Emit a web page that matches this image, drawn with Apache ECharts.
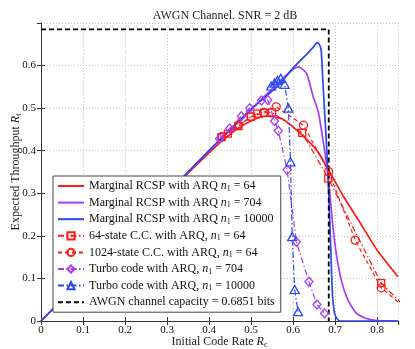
<!DOCTYPE html>
<html>
<head>
<meta charset="utf-8">
<script src="https://cdn.jsdelivr.net/npm/echarts@6/dist/echarts.min.js"></script>
<style>
  html, body { margin: 0; padding: 0; background: #fff; }
  #chart { width: 415px; height: 349px; }
</style>
</head>
<body>
<div id="chart"></div>
<script>
// data (x = initial code rate, y = expected throughput)
var rcsp64Rate = [0, 0.1, 0.2, 0.3, 0.35, 0.4, 0.43, 0.465, 0.5, 0.537, 0.576, 0.616, 0.656, 0.684, 0.72, 0.759, 0.8, 0.85];
var rcsp64Thr = [0, 0.1, 0.2, 0.299, 0.347, 0.395, 0.422, 0.45, 0.47, 0.481, 0.474, 0.442, 0.402, 0.356, 0.293, 0.232, 0.167, 0.104];

var rcsp704Rate = [0, 0.1, 0.2, 0.3, 0.4, 0.5, 0.55, 0.58, 0.6, 0.613, 0.632, 0.648, 0.66, 0.671, 0.683, 0.695, 0.703, 0.715, 0.731, 0.751, 0.775, 0.8, 0.85];
var rcsp704Thr = [0, 0.1, 0.2, 0.3, 0.4, 0.497, 0.545, 0.574, 0.591, 0.597, 0.582, 0.527, 0.492, 0.428, 0.348, 0.222, 0.159, 0.096, 0.049, 0.018, 0.006, 0.001, 0];

var rcsp10000Rate = [0, 0.1, 0.2, 0.3, 0.4, 0.5, 0.568, 0.6, 0.63, 0.65, 0.657, 0.662, 0.667, 0.671, 0.675, 0.68, 0.685, 0.69, 0.694, 0.699, 0.705, 0.712, 0.85];
var rcsp10000Thr = [0, 0.1, 0.2, 0.3, 0.4, 0.497, 0.556, 0.594, 0.624, 0.645, 0.654, 0.651, 0.637, 0.566, 0.496, 0.41, 0.3, 0.17, 0.06, 0.018, 0.005, 0, 0];

var cc64Rate = [0.43, 0.445, 0.47, 0.5, 0.515, 0.532, 0.55, 0.622, 0.684, 0.81, 0.88];
var cc64Thr = [0.432, 0.44, 0.458, 0.48, 0.487, 0.489, 0.49, 0.442, 0.335, 0.089, 0.02];

var cc1024Rate = [0.43, 0.47, 0.5, 0.53, 0.56, 0.625, 0.685, 0.748, 0.81, 0.88];
var cc1024Thr = [0.433, 0.46, 0.48, 0.49, 0.503, 0.46, 0.351, 0.19, 0.078, 0.02];

var turbo704Rate = [0.425, 0.449, 0.477, 0.497, 0.525, 0.54, 0.556, 0.565, 0.586, 0.608, 0.638, 0.657, 0.675];
var turbo704Thr = [0.428, 0.452, 0.481, 0.5, 0.518, 0.519, 0.47, 0.447, 0.355, 0.186, 0.092, 0.039, 0.018];

var turbo10000Rate = [0.548, 0.556, 0.563, 0.571, 0.58, 0.589, 0.594, 0.598, 0.604, 0.612];
var turbo10000Thr = [0.552, 0.559, 0.565, 0.57, 0.556, 0.5, 0.374, 0.198, 0.074, 0.022];

var capacity = 0.6851;
var awgnRate = [0, capacity, capacity];
var awgnThr = [capacity, capacity, 0];

var legendText = {
  rcsp64: 'Marginal RCSP with ARQ {i|n}{s|1} = 64',
  rcsp704: 'Marginal RCSP with ARQ {i|n}{s|1} = 704',
  rcsp10000: 'Marginal RCSP with ARQ {i|n}{s|1} = 10000',
  cc64: '64-state C.C. with ARQ, {i|n}{s|1} = 64',
  cc1024: '1024-state C.C. with ARQ, {i|n}{s|1} = 64',
  turbo704: 'Turbo code with ARQ, {i|n}{s|1} = 704',
  turbo10000: 'Turbo code with ARQ, {i|n}{s|1} = 10000',
  awgn: 'AWGN channel capacity = 0.6851 bits'
};

var RED = '#ff1a1a';
var PURPLE = '#a63cf2';
var BLUE = '#2b48f2';
var CLEAR = 'rgba(255,255,255,0)';
var FONT = '"Liberation Serif", "DejaVu Serif", serif';
var DASHDOT = [6, 2.5, 1.5, 2.5];

function zip(xs, ys) {
  return xs.map(function (x, i) { return [x, ys[i]]; });
}

// plain curve: itemStyle kept transparent so the legend only shows the line
function curve(name, xs, ys, color) {
  return {
    name: name, type: 'line', data: zip(xs, ys),
    symbol: 'none', smooth: 0.2,
    lineStyle: { color: color, width: 1.7 },
    itemStyle: { color: CLEAR, borderWidth: 0 },
    animation: false, silent: true
  };
}

function marked(name, xs, ys, color, symbol, size, dash) {
  return {
    name: name, type: 'line', data: zip(xs, ys),
    symbol: symbol, symbolSize: size, showSymbol: true,
    lineStyle: { color: color, width: 1.2, type: dash },
    itemStyle: { color: CLEAR, borderColor: color, borderWidth: 1.3 },
    animation: false, silent: true
  };
}

var chart = echarts.init(document.getElementById('chart'));

var rich = {
  i: { fontFamily: FONT, fontStyle: 'italic', fontSize: 12, color: '#111', lineHeight: 14 },
  s: { fontFamily: FONT, fontSize: 8, color: '#111', lineHeight: 14, padding: [5, 0, 0, 0] }
};

var option = {
  backgroundColor: '#fff',
  title: {
    text: 'AWGN Channel. SNR = 2 dB',
    left: 220, top: 5, textAlign: 'center',
    textStyle: { fontFamily: FONT, fontSize: 12, fontWeight: 'normal', color: '#222' }
  },
  legend: {
    orient: 'vertical',
    left: 53, top: 176,
    padding: [3, 6, 3, 4],
    itemWidth: 26, itemHeight: 9, itemGap: 2.6,
    backgroundColor: '#fff',
    borderColor: '#444', borderWidth: 1,
    selectedMode: false,
    data: ['rcsp64', 'rcsp704', 'rcsp10000', 'cc64', 'cc1024', 'turbo704', 'turbo10000', 'awgn'],
    formatter: function (name) { return legendText[name]; },
    textStyle: { fontFamily: FONT, fontSize: 12, color: '#111', lineHeight: 14, rich: rich }
  },
  grid: { left: 41, right: 17, top: 23, bottom: 28, outerBoundsMode: 'none', containLabel: false },
  xAxis: [{
    type: 'value', min: 0, max: 0.85, interval: 0.1,
    name: '{t|Initial Code Rate }{i|R}{s|c}',
    nameLocation: 'middle', nameGap: 14, nameMoveOverlap: false,
    nameTextStyle: {
      rich: {
        t: { fontFamily: FONT, fontSize: 12, color: '#222', lineHeight: 14 },
        i: rich.i, s: rich.s
      }
    },
    axisLine: { lineStyle: { color: '#333' } },
    axisTick: { inside: true, length: 4, lineStyle: { color: '#333' } },
    axisLabel: { fontFamily: FONT, fontSize: 11, color: '#111', margin: 4, showMaxLabel: false },
    splitLine: { show: true, lineStyle: { color: '#c4c4c4', type: [1, 2] } }
  }, {
    type: 'value', min: 0, max: 0.85, interval: 0.1, position: 'top',
    axisLine: { show: true, lineStyle: { color: '#333' } },
    axisTick: { inside: true, length: 4, lineStyle: { color: '#333' } },
    axisLabel: { show: false }, splitLine: { show: false }
  }],
  yAxis: [{
    type: 'value', min: 0, max: 0.7, interval: 0.1,
    name: '{t|Expected Throughput }{i|R}{s|t}',
    nameLocation: 'middle', nameGap: 18, nameMoveOverlap: false,
    nameTextStyle: {
      rich: {
        t: { fontFamily: FONT, fontSize: 12, color: '#222', lineHeight: 14 },
        i: rich.i, s: rich.s
      }
    },
    axisLine: { show: true, lineStyle: { color: '#333' } },
    axisTick: { show: true, inside: true, length: 4, lineStyle: { color: '#333' } },
    axisLabel: { fontFamily: FONT, fontSize: 11, color: '#111', margin: 5, showMaxLabel: false },
    splitLine: { show: true, lineStyle: { color: '#c4c4c4', type: [1, 2] } }
  }, {
    type: 'value', min: 0, max: 0.7, interval: 0.1, position: 'right',
    axisLine: { show: true, lineStyle: { color: '#333' } },
    axisTick: { show: true, inside: true, length: 4, lineStyle: { color: '#333' } },
    axisLabel: { show: false }, splitLine: { show: false }
  }],
  series: [
    curve('rcsp64', rcsp64Rate, rcsp64Thr, RED),
    curve('rcsp704', rcsp704Rate, rcsp704Thr, PURPLE),
    curve('rcsp10000', rcsp10000Rate, rcsp10000Thr, BLUE),
    marked('cc64', cc64Rate, cc64Thr, RED, 'rect', 7, DASHDOT),
    marked('cc1024', cc1024Rate, cc1024Thr, RED, 'circle', 8, [4, 3]),
    marked('turbo704', turbo704Rate, turbo704Thr, PURPLE, 'diamond', [8, 9], DASHDOT),
    marked('turbo10000', turbo10000Rate, turbo10000Thr, BLUE, 'triangle', [9, 8], DASHDOT),
    {
      name: 'awgn', type: 'line', data: zip(awgnRate, awgnThr),
      symbol: 'none',
      lineStyle: { color: '#000', width: 1.8, type: [5, 3] },
      itemStyle: { color: CLEAR, borderWidth: 0 },
      animation: false, silent: true
    }
  ]
};

chart.setOption(option);
</script>
</body>
</html>
